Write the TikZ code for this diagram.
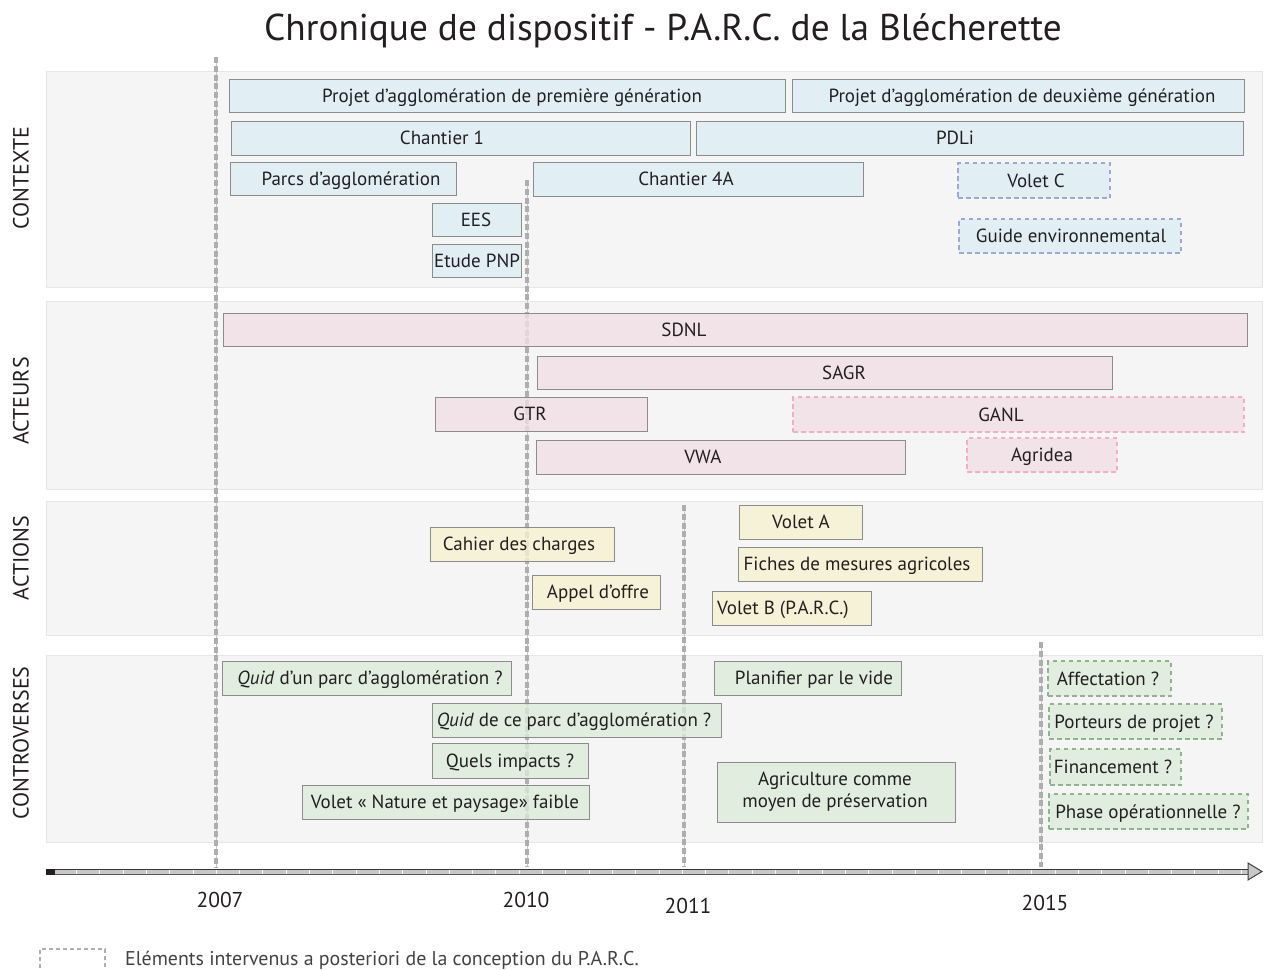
\documentclass[tikz,border=0pt]{standalone}
\usepackage{fontspec}
\setmainfont{PT Sans}
\usetikzlibrary{fit}

\definecolor{ink}{HTML}{231F20}
\definecolor{band}{HTML}{F5F5F5}
\definecolor{bandline}{HTML}{E6E6E6}
\definecolor{yearline}{HTML}{AEAEAE}
\definecolor{edge}{HTML}{8C8C8C}
\definecolor{ctxfill}{HTML}{DCEEF5}
\definecolor{ctxdash}{HTML}{9AA9D6}
\definecolor{actfill}{HTML}{F2DFE5}
\definecolor{actdash}{HTML}{F3ADC6}
\definecolor{acnfill}{HTML}{F7F2CF}
\definecolor{ctrfill}{HTML}{DCEBDA}
\definecolor{ctrdash}{HTML}{8DB48D}

\tikzset{
  sectionband/.style={fill=band, draw=bandline, line width=0.8pt},
  sectionlabel/.style={rotate=90, text=ink, font=\fontsize{22}{24}\selectfont, inner sep=0pt},
  yearmark/.style={yearline, line width=3.4pt, dash pattern=on 6pt off 2.8pt},
  yearthin/.style={yearline!70, line width=1pt},
  tbox/.style={inner sep=0pt, fill opacity=0.78, line width=0.9pt},
  ctxbox/.style={tbox, fill=ctxfill, draw=edge},
  ctxlate/.style={tbox, fill=ctxfill, draw=ctxdash, line width=1.4pt, dash pattern=on 4.5pt off 3.5pt},
  actbox/.style={tbox, fill=actfill, draw=edge},
  actlate/.style={tbox, fill=actfill, draw=actdash, line width=1.4pt, dash pattern=on 4.5pt off 3.5pt},
  acnbox/.style={tbox, fill=acnfill, draw=edge},
  ctrbox/.style={tbox, fill=ctrfill, draw=edge},
  ctrlate/.style={tbox, fill=ctrfill, draw=ctrdash, line width=1.4pt, dash pattern=on 4.5pt off 3.5pt},
  boxtext/.style={text=ink, inner sep=0pt, font=\fontsize{19}{22}\selectfont, align=center},
  yeartext/.style={text=ink, inner sep=0pt, font=\fontsize{21.5}{24}\selectfont},
}

% \tlbox{style}{name}{x1}{y1}{x2}{y2}{text x}{text}: box with a one-line caption
\newcommand\tlbox[8]{%
  \node[#1, fit={(#3,#4) (#5,#6)}] (#2) {};
  \node[boxtext, anchor=base] (#2-t) at (#7,{(#4+#6)/2+6.8}) {#8};
}

\begin{document}
\begin{tikzpicture}[x=1pt, y=-1pt]
\useasboundingbox (0,0) rectangle (1266,969);

% title
\node[text=ink, font=\fontsize{37.3}{40}\selectfont, inner sep=0pt] (title) at (663,31) {Chronique de dispositif - P.A.R.C. de la Blécherette};

% section bands
\node[sectionband, inner sep=0pt, fit={(46,71) (1262,287)}] (bandctx) {};
\node[sectionband, inner sep=0pt, fit={(46,301) (1262,489)}] (bandact) {};
\node[sectionband, inner sep=0pt, fit={(46,501) (1262,635)}] (bandacn) {};
\node[sectionband, inner sep=0pt, fit={(46,655) (1262,842)}] (bandctr) {};

\node[sectionlabel] (lblctx) at (21,178) {CONTEXTE};
\node[sectionlabel] (lblact) at (21,401) {ACTEURS};
\node[sectionlabel] (lblacn) at (21,558) {ACTIONS};
\node[sectionlabel] (lblctr) at (21,743) {CONTROVERSES};

% year marks
\coordinate (y07a) at (216,57);  \coordinate (y07b) at (216,867);
\coordinate (y10a) at (527,180); \coordinate (y10b) at (527,867);
\coordinate (y11a) at (684,505); \coordinate (y11b) at (684,867);
\coordinate (y15a) at (1041,642);\coordinate (y15b) at (1041,867);
\foreach \a/\b in {y07a/y07b, y10a/y10b, y11a/y11b, y15a/y15b}{
  \draw[yearthin] (\a) -- (\b);
  \draw[yearmark] (\a) -- (\b);
}

% CONTEXTE
\tlbox{ctxbox}{pa1}{229}{79}{785}{112}{512}{Projet d’agglomération de première génération}
\tlbox{ctxbox}{pa2}{792}{79}{1244}{112}{1022}{Projet d’agglomération de deuxième génération}
\tlbox{ctxbox}{ch1}{231}{121}{690}{155}{442}{Chantier 1}
\tlbox{ctxbox}{pdli}{696}{121}{1243}{155}{955}{PDLi}
\tlbox{ctxbox}{parcs}{230}{162}{456}{195}{351}{Parcs d’agglomération}
\tlbox{ctxbox}{ch4a}{533}{162}{863}{196}{686}{Chantier 4A}
\tlbox{ctxlate}{voletc}{958}{163}{1110}{198}{1036}{Volet C}
\tlbox{ctxlate}{guide}{959}{219}{1181}{253}{1071}{Guide environnemental}
\tlbox{ctxbox}{ees}{432}{203}{521}{236}{476}{EES}
\tlbox{ctxbox}{pnp}{432}{244}{521}{277}{477}{Etude PNP}

% ACTEURS
\tlbox{actbox}{sdnl}{223}{313}{1247}{346}{684}{SDNL}
\tlbox{actbox}{sagr}{537}{356}{1112}{389}{844}{SAGR}
\tlbox{actbox}{gtr}{435}{397}{647}{431}{530}{GTR}
\tlbox{actlate}{ganl}{793}{397}{1244}{432}{1001}{GANL}
\tlbox{actbox}{vwa}{536}{440}{905}{474}{703}{VWA}
\tlbox{actlate}{agridea}{967}{438}{1117}{472}{1042}{Agridea}

% ACTIONS
\tlbox{acnbox}{cahier}{430}{527}{614}{561}{519}{Cahier des charges}
\tlbox{acnbox}{appel}{532}{575}{660}{609}{598}{Appel d’offre}
\tlbox{acnbox}{voleta}{739}{505}{862}{539}{801}{Volet A}
\tlbox{acnbox}{fiches}{738}{547}{982}{581}{857}{Fiches de mesures agricoles}
\tlbox{acnbox}{voletb}{712}{591}{871}{625}{783}{Volet B (P.A.R.C.)}

% CONTROVERSES
\tlbox{ctrbox}{quidun}{222}{661}{511}{695}{370}{\textit{Quid} d’un parc d’agglomération ?}
\tlbox{ctrbox}{quidce}{432}{703}{721}{737}{574}{\textit{Quid} de ce parc d’agglomération ?}
\tlbox{ctrbox}{impacts}{432}{743}{588}{778}{510}{Quels impacts ?}
\tlbox{ctrbox}{nature}{302}{785}{589}{819}{445}{Volet « Nature et paysage» faible}
\tlbox{ctrbox}{vide}{714}{661}{901}{695}{814}{Planifier par le vide}
\node[ctrbox, fit={(717,762) (955,822)}] (agri) {};
\node[boxtext] (agri-t) at (835,792) {Agriculture comme\\moyen de préservation};
\tlbox{ctrlate}{affect}{1048}{661}{1171}{696}{1108}{Affectation ?}
\tlbox{ctrlate}{porteurs}{1049}{704}{1222}{739}{1134}{Porteurs de projet ?}
\tlbox{ctrlate}{finance}{1050}{749}{1181}{785}{1113}{Financement ?}
\tlbox{ctrlate}{phase}{1049}{794}{1248}{829}{1148}{Phase opérationnelle ?}

% time axis
\coordinate (axisL) at (46,871.5);
\coordinate (axisR) at (1262,871.5);
\fill[black!22] (46,869.5) rectangle (1249,874);
\foreach \t in {0,...,51}{
  \draw[white!70!black!10, line width=0.5pt] ({53+23.3*\t},869.8) -- ({53+23.3*\t},873.8);
}
\draw[ink!90, line width=1.3pt] (46,869.2) -- (1249,869.2);
\draw[ink!75, line width=0.7pt] (46,874.4) -- (1249,874.4);
\fill[ink] (46,868.6) rectangle (55,875);
\filldraw[fill=black!22, draw=ink!85, line width=1pt, line join=miter] (1248,863) -- (axisR) -- (1248,880) -- cycle;

% years
\node[yeartext] (t2007) at (220,900) {2007};
\node[yeartext] (t2010) at (526,900) {2010};
\node[yeartext] (t2011) at (688,906) {2011};
\node[yeartext] (t2015) at (1045,903) {2015};

% legend
\draw[yearline, line width=1.2pt, dash pattern=on 4pt off 3pt] (40,975) -- (40,949) -- (105,949) -- (105,975);
\node[text=ink!85, inner sep=0pt, anchor=west, font=\fontsize{19.9}{22}\selectfont] (legend) at (125,960) {Eléments intervenus a posteriori de la conception du P.A.R.C.};
\end{tikzpicture}
\end{document}
